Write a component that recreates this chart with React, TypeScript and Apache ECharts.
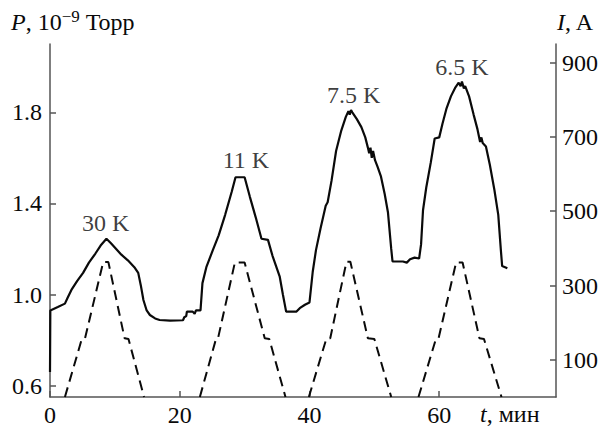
import { useEffect, useRef } from 'react';
import * as echarts from 'echarts';

// Pressure P (10^-9 Torr) vs time t (min)
const pTime = [
  0, 0.05, 1.2, 2.3, 2.7, 3.3, 4.2, 5.1, 6.0, 7.0, 7.8, 8.7, 9.4, 10.2, 11.0, 12.0, 13.0, 13.6, 14.0, 14.4,
  14.9, 15.4, 16.2, 16.9, 18.5, 20.5, 20.7, 21.0, 21.1, 22.0, 22.3, 22.5, 23.2, 23.5, 24.1, 25.1, 26.0, 27.0,
  28.0, 28.6, 30.0, 30.8, 31.7, 32.6, 33.6, 34.3, 35.4, 35.9, 36.4, 38.0, 38.5, 39.3, 40.0, 40.5, 41.0, 41.7,
  42.5, 42.8, 43.4, 44.1, 44.9, 45.6, 46.0, 46.2, 46.4, 46.6, 47.3, 48.0, 48.6, 49.0, 49.2, 49.4, 49.6, 49.8,
  50.1, 50.5, 51.0, 51.6, 52.1, 52.6, 52.8, 54.4, 55.0, 55.5, 56.2, 56.9, 57.2, 57.5, 58.0, 58.7, 59.3, 60.0,
  60.5, 61.1, 61.8, 62.5, 63.0, 63.3, 63.5, 63.8, 64.0, 64.6, 65.3, 65.9, 66.3, 66.5, 66.7, 67.2, 67.8, 68.5,
  69.1, 69.5, 69.7, 70.5,
];
const pValue = [
  0.66, 0.93, 0.945, 0.96, 0.985, 1.02, 1.06, 1.095, 1.14, 1.18, 1.215, 1.245, 1.225, 1.2, 1.175, 1.15, 1.12,
  1.095, 1.04, 0.976, 0.93, 0.91, 0.895, 0.888, 0.885, 0.887, 0.9, 0.905, 0.925, 0.925, 0.915, 0.93, 0.93,
  1.05, 1.12, 1.195, 1.26, 1.35, 1.45, 1.515, 1.515, 1.43, 1.34, 1.245, 1.24, 1.17, 1.08, 1.0, 0.925, 0.925,
  0.94, 0.955, 0.965, 1.1, 1.195, 1.29, 1.39, 1.405, 1.5, 1.63, 1.72, 1.78, 1.805, 1.79, 1.81, 1.8, 1.77,
  1.735, 1.69, 1.645, 1.62, 1.645, 1.6, 1.63, 1.59, 1.56, 1.52, 1.44, 1.36, 1.2, 1.145, 1.145, 1.14, 1.155,
  1.162, 1.158, 1.22, 1.37, 1.47, 1.58, 1.685, 1.69, 1.75, 1.815, 1.87, 1.91, 1.93, 1.915, 1.935, 1.905,
  1.915, 1.87, 1.79, 1.725, 1.67, 1.69, 1.665, 1.65, 1.57, 1.46, 1.35, 1.195, 1.125, 1.115,
];

// Current I (A) vs time t (min); null breaks the line between ramps
const iTime = [
  2.3, 4.9, 5.4, 8.2, 9.0, 11.5, 12.1, 14.5, 18.0,
  23.1, 25.6, 25.9, 28.5, 30.0, 33.1, 33.8, 36.3, 38.0,
  39.9, 42.6, 43.2, 45.7, 46.3, 49.0, 50.0, 52.6, 54.5,
  56.8, 59.5, 59.9, 62.6, 63.6, 66.2, 66.9, 69.6,
];
const iValue: (number | null)[] = [
  0, 156, 158, 363, 363, 158, 156, 0, null,
  0, 157, 158, 362, 362, 158, 156, 0, null,
  0, 157, 158, 364, 364, 158, 156, 0, null,
  0, 157, 158, 362, 362, 158, 156, 0,
];

const xTicks = [0, 20, 40, 60];
const pTicks = [0.6, 1.0, 1.4, 1.8];
const iTicks = [100, 300, 500, 700, 900];

const peakLabels = ['30 K', '11 K', '7.5 K', '6.5 K'];
const peakLabelT = [8.6, 30.2, 46.8, 63.5];
const peakLabelP = [1.314, 1.59, 1.876, 2.0];

const FONT = 'Liberation Serif';
const INK = '#0a0a0a';
const AXIS = '#555';

export default function App() {
  const ref = useRef<HTMLDivElement>(null);

  useEffect(() => {
    if (!ref.current) return;
    const chart = echarts.init(ref.current, undefined, { renderer: 'svg' });

    const pData = pTime.map((t, k) => [t, pValue[k]]);
    const iData = iTime.map((t, k) => [t, iValue[k]]);
    const lblData = peakLabelT.map((t, k) => [t, peakLabelP[k]]);

    const tickLabel = { fontFamily: FONT, fontSize: 24, color: INK };

    chart.setOption({
      animation: false,
      backgroundColor: '#fff',
      textStyle: { fontFamily: FONT, fontSize: 24 },
      grid: { left: 50, right: 52, top: 44, bottom: 31, containLabel: false },
      xAxis: {
        type: 'value',
        min: 0,
        max: 78,
        splitLine: { show: false },
        axisLine: { show: true, lineStyle: { color: AXIS, width: 1.5 } },
        axisTick: { show: true, inside: true, length: 6, customValues: xTicks, lineStyle: { color: AXIS, width: 1.5 } },
        axisLabel: { ...tickLabel, margin: 6, customValues: xTicks },
      },
      yAxis: [
        {
          type: 'value',
          min: 0.55,
          max: 2.1,
          position: 'left',
          splitLine: { show: false },
          axisLine: { show: true, lineStyle: { color: AXIS, width: 1.5 } },
          axisTick: { show: true, inside: true, length: 6, customValues: pTicks, lineStyle: { color: AXIS, width: 1.5 } },
          axisLabel: { ...tickLabel, margin: 8, customValues: pTicks, formatter: (v: number) => v.toFixed(1) },
        },
        {
          type: 'value',
          min: 0,
          max: 950,
          position: 'right',
          splitLine: { show: false },
          axisLine: { show: true, lineStyle: { color: AXIS, width: 1.5 } },
          axisTick: { show: true, inside: true, length: 6, customValues: iTicks, lineStyle: { color: AXIS, width: 1.5 } },
          axisLabel: { ...tickLabel, margin: 6, customValues: iTicks },
        },
      ],
      series: [
        { type: 'line', yAxisIndex: 0, data: pData, symbol: 'none', lineStyle: { color: INK, width: 2.2 }, z: 3 },
        {
          type: 'line', yAxisIndex: 1, data: iData, symbol: 'none', connectNulls: false,
          lineStyle: { color: INK, width: 2, type: [10, 6] }, z: 3,
        },
        {
          type: 'scatter', yAxisIndex: 0, data: lblData, symbolSize: 1,
          itemStyle: { color: 'rgba(0,0,0,0)' },
          label: {
            show: true, position: 'inside',
            formatter: (p: any) => peakLabels[p.dataIndex],
            fontFamily: FONT, fontSize: 24, color: INK,
          },
          z: 4,
        },
      ],
      graphic: [
        {
          type: 'text', x: 11, y: 22,
          style: {
            text: '{i|P}, 10{s|−9} Торр', verticalAlign: 'middle', fill: INK, fontFamily: FONT, fontSize: 24,
            rich: {
              i: { fontFamily: FONT, fontSize: 24, fontStyle: 'italic', fill: INK },
              s: { fontFamily: FONT, fontSize: 17, fill: INK, padding: [0, 0, 12, 0] },
            },
          },
        },
        {
          type: 'text', x: 557, y: 22,
          style: {
            text: '{i|I}, A', verticalAlign: 'middle', fill: INK, fontFamily: FONT, fontSize: 24,
            rich: { i: { fontFamily: FONT, fontSize: 24, fontStyle: 'italic', fill: INK } },
          },
        },
        {
          type: 'text', x: 480, y: 414,
          style: {
            text: '{i|t}, мин', verticalAlign: 'middle', fill: INK, fontFamily: FONT, fontSize: 24,
            rich: { i: { fontFamily: FONT, fontSize: 24, fontStyle: 'italic', fill: INK } },
          },
        },
      ],
    });

    return () => chart.dispose();
  }, []);

  return <div ref={ref} style={{ width: 608, height: 428, position: 'fixed', left: 0, top: 0 }} />;
}
